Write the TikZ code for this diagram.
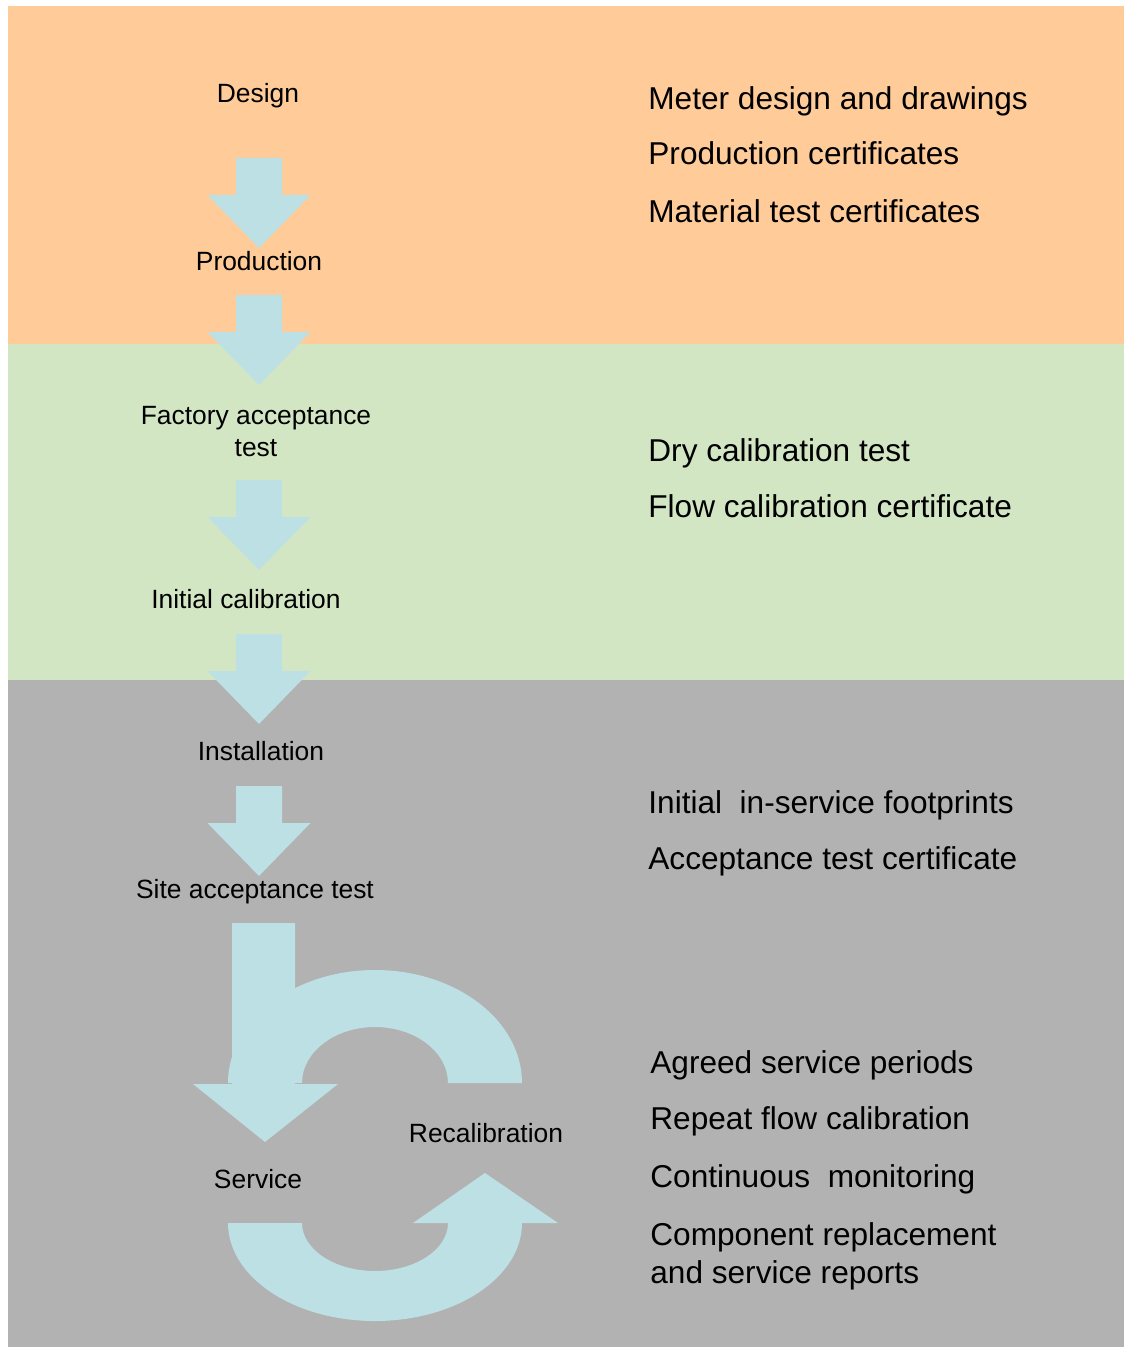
\documentclass[tikz,border=0pt]{standalone}
\usepackage{fontspec}
\setmainfont{Liberation Sans}
\definecolor{bandorange}{HTML}{FECB99}
\definecolor{bandgreen}{HTML}{D3E6C4}
\definecolor{bandgray}{HTML}{B2B2B2}
\definecolor{arrowblue}{HTML}{BDE0E4}
\tikzset{
  stage/.style={anchor=base, inner sep=0pt, align=center, font=\fontsize{13.2}{16}\selectfont},
  record/.style={anchor=base west, inner sep=0pt, align=left, font=\fontsize{15.8}{19}\selectfont},
  downarrow/.pic={\fill[arrowblue] (-23,0) -- (23,0) -- (23,-37) -- (51.5,-37) -- (0,-90) -- (-51.5,-37) -- (-23,-37) -- cycle;}
}

\begin{document}
\begin{tikzpicture}[x=0.5pt, y=0.5pt]
\useasboundingbox (0,0) rectangle (1124,-1347);
% Draw bands
\fill[bandorange] (8,-6) rectangle (1124,-344);
\fill[bandgreen] (8,-344) rectangle (1124,-680);
\fill[bandgray] (8,-680) rectangle (1124,-1347);
% Draw straight arrows
\pic at (259,-158) {downarrow};
\pic at (259,-295) {downarrow};
\pic at (259,-480) {downarrow};
\pic at (259,-634) {downarrow};
\pic at (259,-786) {downarrow};
% Draw service loop
\fill[arrowblue] (232,-923) -- (295,-923) -- (295,-1084) -- (338,-1084) -- (265,-1142) -- (193,-1084) -- (232,-1084) -- cycle;
\fill[arrowblue] (522,-1083) arc[start angle=0, end angle=180, x radius=147, y radius=113]
  -- (302,-1083) arc[start angle=180, end angle=0, x radius=73, y radius=56] -- cycle;
\fill[arrowblue] (228,-1223) arc[start angle=180, end angle=360, x radius=147, y radius=98]
  -- (448,-1223) arc[start angle=0, end angle=-180, x radius=73, y radius=48] -- cycle;
\fill[arrowblue] (413,-1223) -- (558,-1223) -- (485,-1173) -- cycle;
% Stages
\node[stage] (design) at (258,-103) {Design};
\node[stage] (production) at (259,-271) {Production};
\node[stage] (factory) at (256,-456) {Factory acceptance\\test};
\node[stage] (initial) at (246,-608) {Initial calibration};
\node[stage] (installation) at (261,-760) {Installation};
\node[stage] (site) at (255,-898) {Site acceptance test};
\node[stage] (service) at (258,-1188) {Service};
\node[stage] (recal) at (486,-1142) {Recalibration};
% Records
\node[record] (drawings) at (648,-110) {Meter design and drawings};
\node[record] (prodcert) at (648,-165) {Production certificates};
\node[record] (matcert) at (648,-223) {Material test certificates};
\node[record] (dry) at (648,-461) {Dry calibration test};
\node[record] (flowcert) at (648,-517) {Flow calibration certificate};
\node[record] (footprints) at (648,-813) {Initial\ \ in-service footprints};
\node[record] (sitecert) at (648,-869) {Acceptance test certificate};
\node[record] (periods) at (650,-1073) {Agreed service periods};
\node[record] (repeat) at (650,-1129) {Repeat flow calibration};
\node[record] (monitoring) at (650,-1187) {Continuous\ \ monitoring};
\node[record] (reports) at (650,-1283) {Component replacement\\and service reports};
\end{tikzpicture}
\end{document}
